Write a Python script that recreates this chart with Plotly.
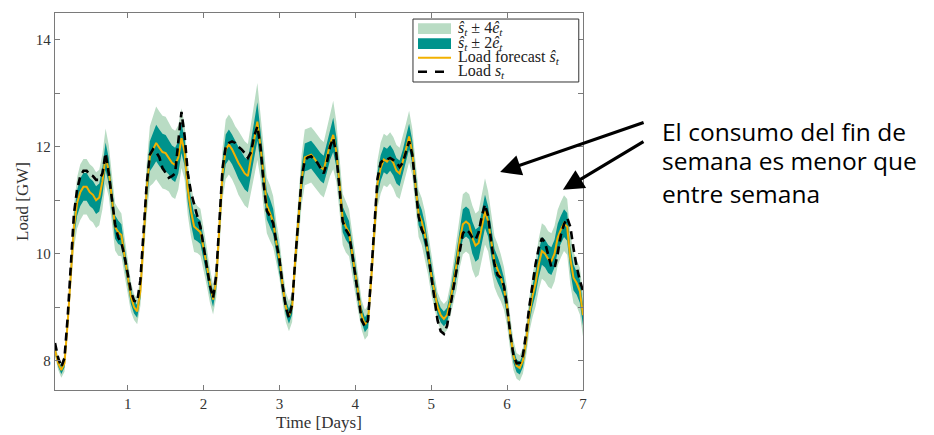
import plotly.graph_objects as go

# Hourly time stamps (hours 1..168 of the week)
hours = list(range(1, 169))

# Measured load s_t [GW], one row per day
load = [
    8.33, 8.05, 7.88, 8.05, 8.8, 9.75, 10.75, 11.2, 11.45, 11.55, 11.55, 11.48, 11.45, 11.38, 11.38, 11.5, 11.88, 11.5, 11.0, 10.55, 10.3, 10.2, 9.95, 9.6,
    9.3, 9.12, 9.1, 9.5, 10.4, 11.3, 11.85, 11.95, 11.9, 11.8, 11.6, 11.5, 11.42, 11.45, 11.5, 12.1, 12.65, 12.2, 11.5, 11.15, 10.9, 10.7, 10.5, 10.1,
    9.76, 9.4, 9.17, 9.6, 10.6, 11.6, 12.0, 12.07, 12.1, 12.07, 12.0, 11.95, 11.88, 11.79, 11.9, 12.2, 12.38, 12.0, 11.3, 10.8, 10.7, 10.57, 10.2, 9.89,
    9.4, 9.0, 8.8, 9.05, 9.9, 10.7, 11.4, 11.75, 11.8, 11.82, 11.76, 11.7, 11.6, 11.5, 11.7, 12.0, 12.16, 11.85, 11.2, 10.6, 10.45, 10.35, 10.0, 9.55,
    9.1, 8.75, 8.64, 8.75, 9.6, 10.6, 11.4, 11.7, 11.76, 11.76, 11.79, 11.75, 11.7, 11.62, 11.7, 11.9, 12.1, 11.85, 11.2, 10.7, 10.45, 10.32, 10.0, 9.55,
    9.1, 8.75, 8.55, 8.5, 8.65, 9.0, 9.35, 9.7, 10.1, 10.38, 10.45, 10.4, 10.3, 10.26, 10.4, 10.7, 10.92, 10.7, 10.2, 9.8, 9.6, 9.55, 9.4, 9.0,
    8.5, 8.1, 7.95, 7.96, 8.1, 8.5, 9.0, 9.45, 9.8, 10.1, 10.29, 10.2, 9.95, 9.75, 9.73, 10.0, 10.35, 10.55, 10.67, 10.5, 10.1, 9.75, 9.5, 9.3,
]

# Load forecast s_hat_t [GW]
forecast = [
    8.2, 7.95, 7.82, 7.95, 8.7, 9.6, 10.5, 10.95, 11.15, 11.25, 11.25, 11.15, 11.1, 11.0, 11.05, 11.35, 11.82, 11.55, 11.0, 10.5, 10.4, 10.35, 9.95, 9.55,
    9.2, 9.0, 8.92, 9.3, 10.3, 11.2, 11.82, 11.95, 12.07, 11.98, 11.9, 11.88, 11.8, 11.7, 11.66, 11.8, 12.16, 11.9, 11.2, 10.8, 10.51, 10.45, 10.4, 10.1,
    9.76, 9.4, 9.14, 9.5, 10.5, 11.5, 11.95, 12.04, 11.95, 11.82, 11.7, 11.6, 11.5, 11.45, 11.8, 12.15, 12.47, 12.0, 11.4, 10.9, 10.76, 10.6, 10.2, 9.89,
    9.4, 9.0, 8.83, 9.0, 9.9, 10.7, 11.38, 11.8, 11.82, 11.85, 11.78, 11.69, 11.62, 11.57, 11.8, 12.05, 12.22, 11.9, 11.3, 10.64, 10.5, 10.39, 10.0, 9.6,
    9.2, 8.85, 8.67, 8.75, 9.5, 10.5, 11.3, 11.6, 11.76, 11.72, 11.79, 11.7, 11.55, 11.5, 11.7, 11.95, 12.19, 11.9, 11.3, 10.75, 10.6, 10.35, 10.0, 9.6,
    9.3, 9.0, 8.85, 8.78, 8.85, 9.1, 9.45, 9.8, 10.25, 10.55, 10.6, 10.55, 10.3, 10.15, 10.2, 10.5, 10.79, 10.6, 10.2, 9.85, 9.7, 9.55, 9.35, 9.0,
    8.5, 8.1, 7.9, 7.86, 8.0, 8.35, 8.85, 9.2, 9.45, 9.8, 10.05, 10.0, 9.9, 9.86, 10.0, 10.3, 10.45, 10.57, 10.5, 9.9, 9.55, 9.45, 9.3, 8.85,
]

# Forecast error estimate e_hat_t [GW]
err = [
    0.03, 0.03, 0.035, 0.04, 0.06, 0.08, 0.10, 0.12, 0.13, 0.13, 0.13, 0.13, 0.13, 0.13, 0.13, 0.13, 0.13, 0.12, 0.11, 0.11, 0.11, 0.10, 0.09, 0.08,
    0.07, 0.06, 0.06, 0.07, 0.10, 0.12, 0.14, 0.16, 0.17, 0.17, 0.17, 0.17, 0.16, 0.16, 0.16, 0.15, 0.14, 0.13, 0.12, 0.12, 0.12, 0.11, 0.11, 0.10,
    0.09, 0.08, 0.07, 0.08, 0.10, 0.12, 0.14, 0.14, 0.14, 0.14, 0.15, 0.15, 0.15, 0.15, 0.16, 0.17, 0.18, 0.15, 0.14, 0.13, 0.13, 0.12, 0.10, 0.09,
    0.08, 0.07, 0.07, 0.07, 0.09, 0.11, 0.12, 0.13, 0.13, 0.13, 0.13, 0.13, 0.13, 0.13, 0.14, 0.15, 0.16, 0.14, 0.13, 0.12, 0.12, 0.11, 0.10, 0.09,
    0.08, 0.07, 0.07, 0.07, 0.08, 0.10, 0.11, 0.12, 0.12, 0.12, 0.12, 0.12, 0.12, 0.12, 0.12, 0.12, 0.12, 0.11, 0.11, 0.11, 0.11, 0.11, 0.10, 0.09,
    0.08, 0.07, 0.07, 0.07, 0.07, 0.08, 0.10, 0.12, 0.13, 0.14, 0.14, 0.14, 0.15, 0.15, 0.15, 0.15, 0.155, 0.14, 0.13, 0.12, 0.12, 0.11, 0.10, 0.09,
    0.08, 0.07, 0.06, 0.06, 0.06, 0.07, 0.08, 0.10, 0.11, 0.12, 0.13, 0.13, 0.13, 0.13, 0.13, 0.13, 0.13, 0.13, 0.13, 0.12, 0.12, 0.11, 0.11, 0.10,
]

x_ticks = [1, 2, 3, 4, 5, 6, 7]
y_ticks = [8, 10, 12, 14]
y_minor_ticks = [9, 11, 13]

legend_labels = [
    "<i>ŝ<sub>t</sub></i> ± 4<i>ê<sub>t</sub></i>",
    "<i>ŝ<sub>t</sub></i> ± 2<i>ê<sub>t</sub></i>",
    "Load forecast <i>ŝ<sub>t</sub></i>",
    "Load <i>s<sub>t</sub></i>",
]
note_lines = ["El consumo del fin de", "semana es menor que", "entre semana"]

assert len(load) == len(forecast) == len(err) == len(hours)

days = [h / 24 for h in hours]


def band(k):
    up = [f + k * e for f, e in zip(forecast, err)]
    lo = [f - k * e for f, e in zip(forecast, err)]
    return days + days[::-1], up + lo[::-1]


LIGHT = "#b9dcc4"
TEAL = "#00938c"
ORANGE = "#f2b100"
SERIF = "Liberation Serif"
AXC = "#7a7a7a"

fig = go.Figure()
bx, by = band(4)
fig.add_trace(go.Scatter(x=bx, y=by, fill="toself", fillcolor=LIGHT, line=dict(width=0),
                         mode="lines", name=legend_labels[0], hoverinfo="skip"))
bx, by = band(2)
fig.add_trace(go.Scatter(x=bx, y=by, fill="toself", fillcolor=TEAL, line=dict(width=0),
                         mode="lines", name=legend_labels[1], hoverinfo="skip"))
fig.add_trace(go.Scatter(x=days, y=forecast, mode="lines", line=dict(color=ORANGE, width=2),
                         name=legend_labels[2]))
fig.add_trace(go.Scatter(x=days, y=load, mode="lines", line=dict(color="black", width=2.6, dash="8px,5px"),
                         name=legend_labels[3]))

axis_common = dict(showgrid=False, zeroline=False, showline=True, linecolor=AXC, linewidth=1.3,
                   mirror="ticks", ticks="inside", ticklen=5, tickcolor=AXC, tickwidth=1,
                   automargin=False,
                   tickfont=dict(family=SERIF, size=15, color="#333333"))

# The page body adds an 8 px offset, so the figure is 8 px smaller than the window
fig.update_layout(
    width=926, height=427, autosize=False,
    margin=dict(l=47, r=351, t=5, b=45, pad=0),
    paper_bgcolor="white", plot_bgcolor="white",
    showlegend=False,
    xaxis=dict(range=[1 / 24, 7], tickvals=x_ticks,
               title=dict(text="Time [Days]", standoff=4, font=dict(family=SERIF, size=17, color="#333333")),
               **axis_common),
    yaxis=dict(range=[7.45, 14.5], tickvals=y_ticks,
               minor=dict(tickvals=y_minor_ticks, ticks="inside", ticklen=5, tickcolor=AXC, showgrid=False),
               title=dict(text="Load [GW]", standoff=2, font=dict(family=SERIF, size=17, color="#333333")),
               **axis_common),
)

# Compact legend box (MATLAB style) drawn in paper coordinates
fig.add_shape(type="rect", xref="paper", yref="paper", x0=0.678, x1=0.992, y0=0.817, y1=0.984,
              fillcolor="white", line=dict(color="#333333", width=1), layer="above")
fig.add_shape(type="rect", xref="paper", yref="paper", x0=0.6875, x1=0.75, y0=0.9443, y1=0.9727,
              fillcolor=LIGHT, line=dict(width=0), layer="above")
fig.add_shape(type="rect", xref="paper", yref="paper", x0=0.6875, x1=0.75, y0=0.9045, y1=0.933,
              fillcolor=TEAL, line=dict(width=0), layer="above")
fig.add_shape(type="line", xref="paper", yref="paper", x0=0.6875, x1=0.75, y0=0.881, y1=0.881,
              line=dict(color=ORANGE, width=2), layer="above")
fig.add_shape(type="line", xref="paper", yref="paper", x0=0.6875, x1=0.75, y0=0.844, y1=0.844,
              line=dict(color="black", width=2.6, dash="9px,8px"), layer="above")
for lab, yy in zip(legend_labels, [0.9576, 0.919, 0.882, 0.845]):
    fig.add_annotation(x=0.7595, y=yy, xref="paper", yref="paper", text=lab, showarrow=False,
                       xanchor="left", yanchor="middle",
                       font=dict(family=SERIF, size=16, color="#222222"))

# Arrows pointing at the weekend curves
for tip_x, tip_y, ax, ay in [(0.843, 0.578, 145, -50), (0.962, 0.531, 82, -49)]:
    fig.add_annotation(x=tip_x, y=tip_y, xref="paper", yref="paper", text="", showarrow=True,
                       ax=ax, ay=ay, arrowhead=2, arrowsize=1.3, arrowwidth=3.2, arrowcolor="black",
                       standoff=0)

for line, yy in zip(note_lines, [0.687, 0.609, 0.52]):
    fig.add_annotation(x=1.146, y=yy, xref="paper", yref="paper", text=line, showarrow=False,
                       xanchor="left", yanchor="middle",
                       font=dict(family="Open Sans", size=24.5, color="black"))

fig.write_html("out.html")
